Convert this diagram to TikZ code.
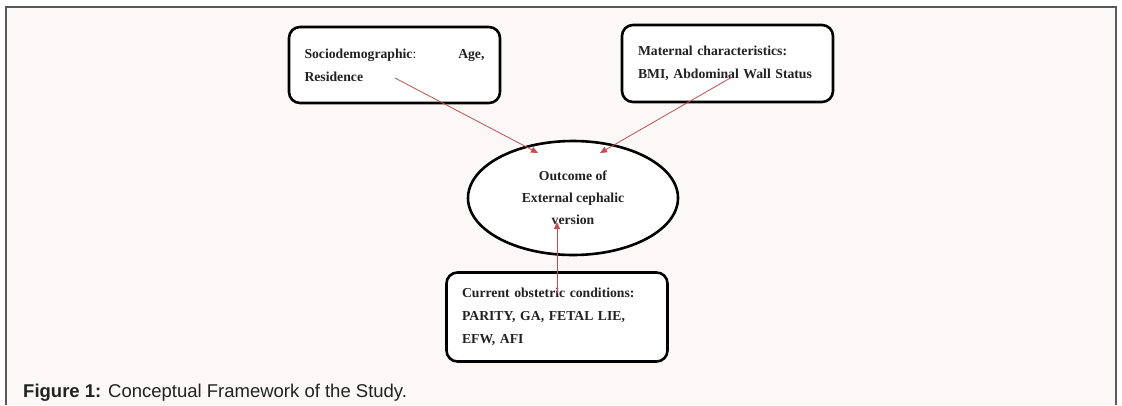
\documentclass[tikz,border=0pt]{standalone}
\usepackage{fontspec}
\setmainfont{Liberation Serif}
\newfontfamily\capfont{Liberation Sans}
\usetikzlibrary{shapes.geometric,arrows.meta}
\definecolor{bgpink}{HTML}{FCF8F8}
\definecolor{framegray}{HTML}{5A5A5A}
\definecolor{arrowred}{HTML}{C0504D}
\definecolor{textdark}{HTML}{222222}

\begin{document}
\begin{tikzpicture}[x=1pt,y=-1pt,
  factor/.style={draw,line width=2.6pt,rounded corners=11pt,fill=white,align=left,
    inner xsep=14pt,text=textdark,font=\fontsize{13.7}{23}\selectfont\bfseries},
  outcome/.style={ellipse,draw,line width=2.6pt,fill=white,minimum width=210pt,
    minimum height=114pt,align=center,text=textdark,font=\fontsize{13.7}{22}\selectfont\bfseries},
  link/.style={draw=arrowred,line width=0.8pt,-{Triangle[length=7pt,width=6pt]}}]

\useasboundingbox (0,0) rectangle (1122,405);
\fill[white] (0,0) rectangle (1122,405);
\fill[bgpink] (6,7) rectangle (1116,405);
\draw[framegray,line width=1.6pt] (6,405) |- (1116,7) -- (1116,405);

% the three groups of factors
\node[factor,minimum width=211pt,minimum height=76pt,text width=180pt] (socio) at (394.5,65)
  {Sociodemographic\textmd{:}\hfill Age,\\Residence};
\node[factor,minimum width=211pt,minimum height=77pt,text width=179pt] (maternal) at (727.5,63.5)
  {Maternal characteristics:\\BMI, Abdominal Wall Status};
\node[factor,minimum width=221pt,minimum height=89pt,text width=190pt] (obstetric) at (557,317)
  {Current obstetric conditions:\\PARITY, GA, FETAL LIE,\\EFW, AFI};

% outcome
\node[outcome] (ecv) at (573,198) {Outcome of\\External cephalic\\version};

\coordinate (sociotail) at ([shift={(0.5,13)}]socio.center);
\coordinate (maternaltail) at ([shift={(4.5,13.5)}]maternal.center);
\coordinate (obstetrictail) at ([shift={(0,-24)}]obstetric.center);
\coordinate (sociotip) at ([shift={(-35,-45)}]ecv.center);
\coordinate (maternaltip) at ([shift={(27,-45)}]ecv.center);
\coordinate (obstetrictip) at ([shift={(-16,24)}]ecv.center);

\draw[link] (sociotail) -- (sociotip);
\draw[link] (maternaltail) -- (maternaltip);
\draw[link] (obstetrictail) -- (obstetrictip);

\node[anchor=base west,inner sep=0pt,text=textdark,font=\capfont\fontsize{18.5}{21}\selectfont] (caption) at (23,397)
  {\textbf{Figure 1:} Conceptual Framework of the Study.};

\end{tikzpicture}
\end{document}
